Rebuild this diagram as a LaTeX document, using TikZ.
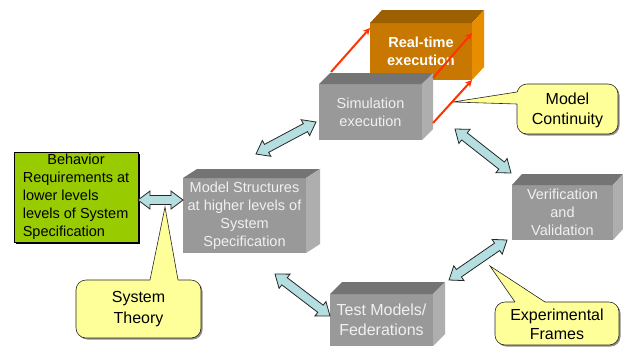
\documentclass[tikz,border=0pt]{standalone}
\usepackage{fontspec}
\setmainfont{Liberation Sans}
\usetikzlibrary{calc,arrows.meta}
\definecolor{fatblue}{HTML}{B4DEE0}
\definecolor{callyel}{HTML}{FFFF99}
\definecolor{grfront}{HTML}{999999}
\definecolor{grtop}{HTML}{747474}
\definecolor{grside}{HTML}{AEAEAE}
\definecolor{orfront}{HTML}{C87800}
\definecolor{ortop}{HTML}{9C6000}
\definecolor{orside}{HTML}{E68E00}
\definecolor{grnbox}{HTML}{99CC00}
\definecolor{redarr}{HTML}{FF3300}
\newcommand\fatarrow[2]{%
\draw[fatarr] (#1)
 -- ($(#1)!12pt!(#2)!9pt!90:(#2)$)
 -- ($(#1)!12pt!(#2)!4.5pt!90:(#2)$)
 -- ($(#2)!12pt!(#1)!4.5pt!-90:(#1)$)
 -- ($(#2)!12pt!(#1)!9pt!-90:(#1)$)
 -- (#2)
 -- ($(#2)!12pt!(#1)!9pt!90:(#1)$)
 -- ($(#2)!12pt!(#1)!4.5pt!90:(#1)$)
 -- ($(#1)!12pt!(#2)!4.5pt!-90:(#2)$)
 -- ($(#1)!12pt!(#2)!9pt!-90:(#2)$)
 -- cycle;}
\newcommand\cubefaces[5]{%
\fill[#4] (#1.north west) -- ++(#2,-#3) -- ($(#1.north east)+(#2,-#3)$) -- (#1.north east) -- cycle;
\fill[#5] (#1.north east) -- ++(#2,-#3) -- ($(#1.south east)+(#2,-#3)$) -- (#1.south east) -- cycle;}
% #1 corner1, #2 corner2, #3 base1, #4 base2, #5 tip, #6 inward shift
\newcommand\callshape[6]{%
\fill[black!45, rounded corners=10pt] ($#1+(1.5,1.5)$) rectangle ($#2+(1.5,1.5)$);
\filldraw[callline, fill=callyel, rounded corners=10pt] #1 rectangle #2;
\fill[callyel] #3 -- #5 -- #4 -- ($#4+#6$) -- ($#3+#6$) -- cycle;
\draw[callline] #3 -- #5 -- #4;}
\begin{document}
\begin{tikzpicture}[x=1pt,y=-1pt,
  front/.style={inner sep=0pt, outer sep=0pt, align=center, text=white!94!black, font=\fontsize{14.5}{18}\selectfont},
  fatarr/.style={draw=black!85, fill=fatblue, line width=0.8pt, line join=miter},
  redline/.style={draw=redarr, line width=2pt, -{Stealth[length=7pt,width=7pt]}},
  callline/.style={draw=black!85, line width=0.6pt},
  calltext/.style={align=center, text=black, font=\fontsize{16}{20.5}\selectfont}]
\useasboundingbox (0,0) rectangle (623,346);
\fill[white] (0,0) rectangle (623,346);

% Real-time execution
\node[front, fill=orfront, minimum width=102pt, minimum height=57pt, text=white,
      font=\bfseries\fontsize{14.5}{18}\selectfont] (rt) at (421,51.5) {Real-time\\execution};
\cubefaces{rt}{12}{13}{ortop}{orside}

% Simulation execution
\node[front, fill=grfront, minimum width=103pt, minimum height=56pt] (sim) at (370.5,112) {Simulation\\execution};
\cubefaces{sim}{11}{11}{grtop}{grside}

% Model structures
\node[front, fill=grfront, minimum width=123pt, minimum height=75pt] (ms) at (244.5,215.5)
  {Model Structures\\at higher levels of\\System\\Specification};
\cubefaces{ms}{14}{9}{grtop}{grside}

% Verification and Validation
\node[front, fill=grfront, minimum width=101pt, minimum height=55pt] (vv) at (562.5,212.5)
  {Verification\\and\\Validation};
\cubefaces{vv}{10}{11}{grtop}{grside}

% Test Models
\node[front, fill=grfront, minimum width=103pt, minimum height=52pt, font=\fontsize{16}{20}\selectfont] (tm) at (381.5,320)
  {Test Models/\\Federations};
\cubefaces{tm}{12}{12}{grtop}{grside}

% Behavior requirements
\fill[black] (16,154) rectangle (140,244);
\node[draw=black, line width=0.6pt, fill=grnbox, minimum width=124pt, minimum height=90pt, inner sep=0pt,
      font=\fontsize{14.5}{18}\selectfont] (beh) at (76,197)
  {\begin{tabular}{@{}l@{}}\multicolumn{1}{@{}c@{}}{Behavior}\\Requirements at\\lower levels\\levels of System\\Specification\end{tabular}};

% red arrows
\coordinate (r1s) at (331,72);  \coordinate (r1e) at (370,28);
\coordinate (r2s) at (433,78);  \coordinate (r2e) at (472,33);
\coordinate (r3s) at (433,123); \coordinate (r3e) at (472,80);
\draw[redline] (r1s) -- (r1e);
\draw[redline] (r2s) -- (r2e);
\draw[redline] (r3s) -- (r3e);

% fat double arrows
\coordinate (f1a) at (138,200); \coordinate (f1b) at (183,200);
\coordinate (f2a) at (256,154); \coordinate (f2b) at (316,122);
\coordinate (f3a) at (455,129); \coordinate (f3b) at (511,173);
\coordinate (f4a) at (507,240); \coordinate (f4b) at (449,280);
\coordinate (f5a) at (275,274); \coordinate (f5b) at (330,316);
\fatarrow{f1a}{f1b}
\fatarrow{f2a}{f2b}
\fatarrow{f3a}{f3b}
\fatarrow{f4a}{f4b}
\fatarrow{f5a}{f5b}

% callouts
\callshape{(517,84)}{(618,134)}{(517,92)}{(517,104)}{(453,102)}{(1.5,0)}
\node[calltext] (mc) at (567.5,110.5) {Model\\Continuity};

\callshape{(76,280)}{(201,338)}{(150,280)}{(178,280)}{(165,207)}{(0,1.5)}
\node[calltext] (st) at (138.5,309) {System\\Theory};

\callshape{(495,302)}{(619,345)}{(515,302)}{(545,302)}{(490,266)}{(0,1.5)}
\node[calltext, font=\fontsize{16}{19}\selectfont] (ef) at (557,324.5) {Experimental\\Frames};
\end{tikzpicture}
\end{document}
